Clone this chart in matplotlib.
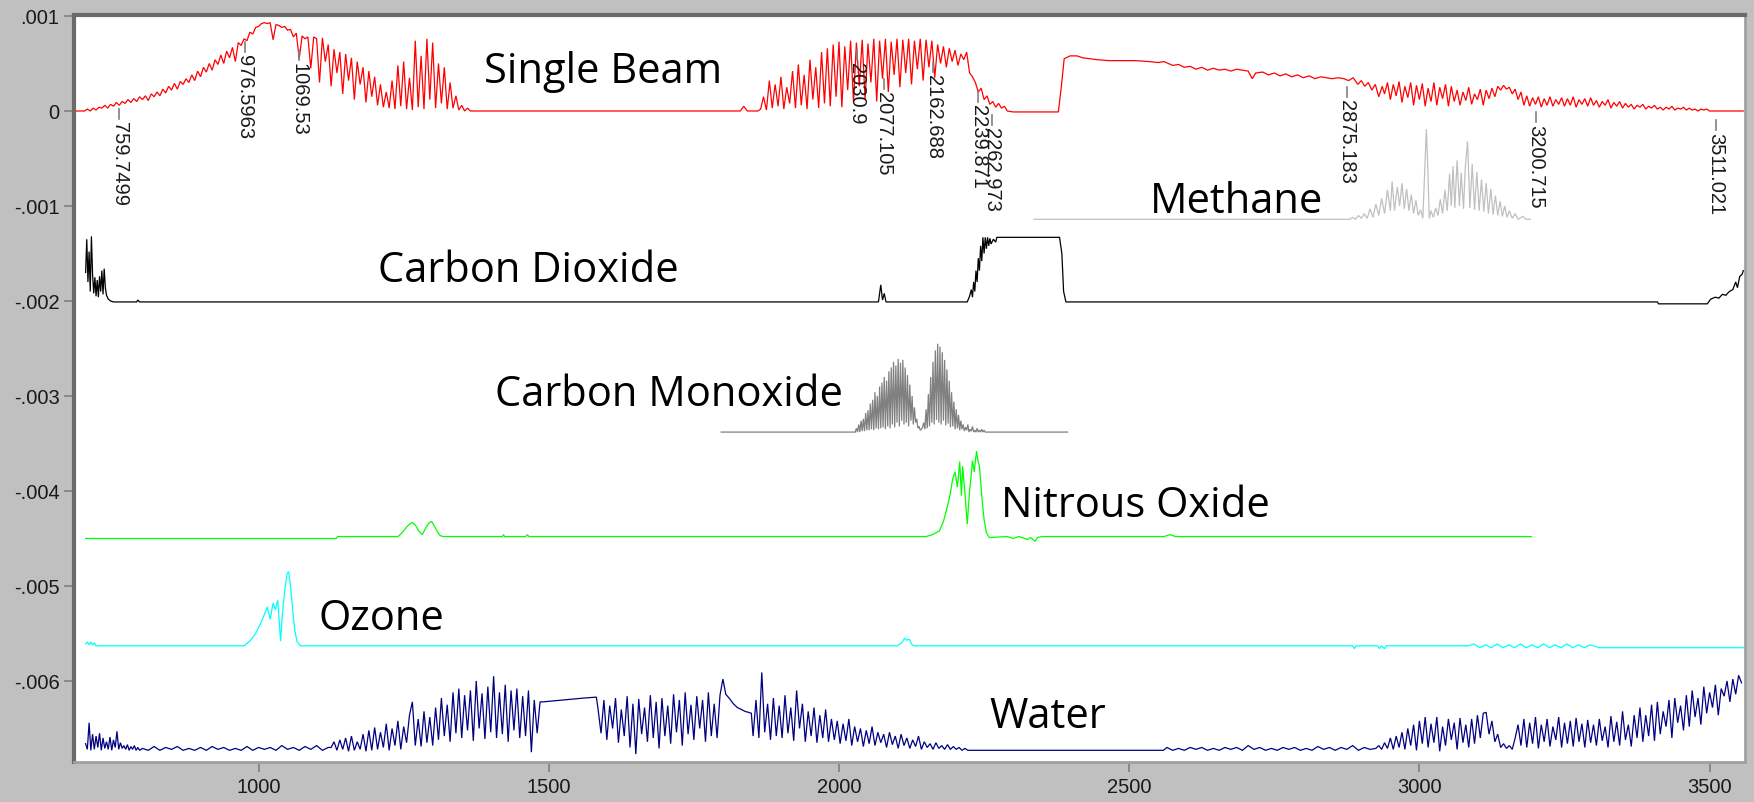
import matplotlib
matplotlib.use("Agg")
import matplotlib.pyplot as plt

# all y values below are in units of 1e-4 (absorbance offset traces)
SCALE = 1e-4


def seg(x0, step, vals):
    # a run of readings taken every `step` wavenumbers
    return [(x0 + i * step, v) for i, v in enumerate(vals)]


# ---------- data ----------

single_beam = (
    [(681, 0.0)]
    + seg(700, 5, [0.0, 0.2, 0.0, 0.3, 0.1, 0.4, 0.3, 0.6, 0.3, 0.7, 0.5, 0.9, 0.6, 1.0, 0.8, 1.2,
                   0.9, 1.3, 1.0, 1.5, 1.2, 1.6, 1.1, 1.8, 1.5, 2.0, 1.6, 2.3, 1.9, 2.6, 2.2, 2.9,
                   2.3, 3.1, 2.8, 3.4, 3.0, 3.8, 3.2, 4.2, 3.6, 4.6, 4.1, 5.0, 4.3, 5.4, 4.9, 5.9,
                   5.0, 6.3, 5.6, 6.7, 5.2, 7.2, 6.9, 7.6, 7.4, 8.3, 8.1, 8.8, 8.9, 9.2, 9.3, 9.2,
                   9.3, 7.5, 9.1, 9.0, 8.8, 8.9, 8.5, 8.6, 7.8, 8.2, 5.5, 7.9, 7.6, 7.8, 4.5, 7.8,
                   7.6, 3.0, 7.7, 5.2, 7.0, 2.6, 6.5, 4.0, 6.2, 1.8, 6.0, 3.2, 5.6, 1.2, 5.2, 2.8,
                   4.6, 0.9, 4.2, 1.5, 3.6, 0.6, 2.8, 0.4, 2.0, 0.3, 3.2, 0.2, 4.8, 0.5, 5.2, 0.2,
                   3.5, 0.1, 7.4, 0.4, 5.8, 0.2, 7.6, 1.2, 7.2, 0.3, 5.0, 0.8, 4.6, 0.2, 3.0, 0.3,
                   1.6, 0.1, 0.6, 0.0, 0.3, 0.0])
    + [(1375, 0.0), (1830, 0.0), (1836, 0.5), (1842, 0.0), (1860, 0.0)]
    + seg(1865, 5, [0.2, 1.5, 0.1, 3.2, 0.3, 2.8, 0.5, 3.6, 0.2, 2.5, 0.8, 4.2, 0.3, 4.9, 0.6, 3.8,
                    0.2, 5.4, 1.2, 4.6, 0.3, 6.2, 0.8, 6.6, 0.5, 7.0, 1.5, 7.3, 0.4, 6.8, 2.2, 7.4,
                    0.9, 7.2, 2.6, 7.5, 1.2, 7.1, 3.0, 7.6, 1.0, 7.4, 3.4, 7.6, 2.0, 7.3, 3.8, 7.6,
                    2.5, 7.5, 4.0, 7.6, 2.8, 7.4, 4.4, 7.6, 3.2, 7.5, 4.6, 7.4, 3.5, 7.0, 5.0, 6.8,
                    4.6, 6.6, 5.2, 6.4, 4.8, 6.0, 5.4, 6.2, 4.0, 3.6, 3.0, 2.0, 2.4, 1.2, 1.6, 0.7,
                    1.0, 0.4, 0.8, 0.3, 0.5, 0.0])
    + [(2300, -0.1), (2378, -0.1), (2383, 2.5), (2388, 5.5), (2398, 5.8), (2410, 5.8),
       (2420, 5.6), (2445, 5.4), (2465, 5.3), (2511, 5.3), (2535, 5.2), (2550, 5.1),
       (2560, 5.2), (2575, 4.8), (2585, 4.9), (2595, 4.6), (2605, 4.7), (2615, 4.4),
       (2625, 4.6), (2635, 4.3), (2645, 4.5), (2655, 4.3), (2665, 4.4), (2675, 4.2),
       (2685, 4.4), (2695, 4.3), (2705, 4.2), (2712, 3.4), (2718, 4.0), (2730, 4.1),
       (2740, 3.8), (2750, 4.0), (2760, 3.7), (2770, 3.9), (2780, 3.6), (2790, 3.8),
       (2800, 3.5), (2810, 3.7), (2820, 3.4), (2830, 3.6), (2840, 3.5), (2850, 3.4),
       (2860, 3.5), (2870, 3.4), (2878, 3.2), (2886, 3.5), (2894, 2.8), (2900, 3.2),
       (2906, 2.6), (2912, 3.0), (2918, 2.2), (2924, 2.8), (2930, 1.5), (2936, 2.6)]
    + seg(2940, 5, [1.8, 3.0, 1.2, 2.8, 1.6, 3.1, 0.9, 2.6, 1.4, 3.0, 0.6, 2.7, 1.2, 2.9, 0.5, 2.4,
                    1.0, 3.0, 0.6, 2.5, 1.3, 2.8, 0.5, 2.6, 1.0, 2.2, 0.6, 2.0, 1.1, 2.5, 0.7, 1.8,
                    1.2, 2.3, 0.6, 2.2, 1.3, 2.4, 1.5, 2.6, 2.2, 2.7, 2.3, 2.5, 1.8, 2.3, 1.2, 2.0,
                    0.6, 1.6, 0.5, 1.4, 0.7, 1.5, 0.4, 1.3, 0.6, 1.5, 0.5, 1.2, 0.7, 1.4, 0.5, 1.3,
                    0.6, 1.5, 0.4, 1.2, 0.7, 1.3, 0.5, 1.4, 0.6, 1.1, 0.4, 1.0, 0.6, 1.2, 0.3, 0.9,
                    0.5, 1.0, 0.3, 0.8, 0.4, 0.7, 0.2, 0.6, 0.4, 0.7, 0.2, 0.5, 0.3, 0.6, 0.2, 0.4,
                    0.1, 0.4, 0.2, 0.5, 0.1, 0.3, 0.2, 0.4, 0.1, 0.3, 0.1, 0.2, 0.0, 0.2, 0.1, 0.2,
                    0.0])
    + [(3510, 0.0), (3558, 0.0)]
)

methane = [
    (2336, -11.4), (2880, -11.4), (2885, -11.2), (2890, -11.4), (2895, -11.0), (2900, -11.3),
    (2905, -10.8), (2910, -11.3), (2915, -10.3), (2920, -11.2), (2925, -9.8), (2930, -11.0),
    (2935, -9.2), (2940, -10.8), (2945, -8.3), (2950, -10.5), (2953, -7.4), (2957, -10.5),
    (2962, -8.0), (2966, -10.0), (2970, -7.6), (2974, -10.3), (2978, -8.2), (2982, -10.5),
    (2986, -8.8), (2990, -10.8), (2994, -9.4), (2998, -11.0), (3002, -10.4), (3006, -11.3),
    (3010, -5.0), (3012, -1.9), (3014, -5.0), (3017, -11.3), (3020, -10.5), (3024, -11.2),
    (3028, -10.2), (3032, -11.0), (3036, -9.3), (3040, -10.8), (3044, -8.3), (3048, -10.5),
    (3052, -6.6), (3055, -10.0), (3058, -5.8), (3061, -10.2), (3065, -5.2), (3069, -10.0),
    (3072, -6.5), (3076, -10.3), (3079, -6.0), (3083, -3.2), (3087, -10.2), (3091, -5.6),
    (3095, -10.4), (3099, -6.4), (3103, -10.5), (3107, -7.2), (3111, -10.6), (3115, -7.6),
    (3119, -10.8), (3123, -8.2), (3127, -10.9), (3131, -8.9), (3135, -11.0), (3139, -9.5),
    (3143, -11.1), (3147, -10.0), (3151, -11.2), (3155, -10.5), (3160, -11.3), (3165, -10.8),
    (3170, -11.4), (3178, -11.1), (3184, -11.4), (3191, -11.4),
]

carbon_dioxide = [
    (702, -17.0), (704, -13.5), (706, -18.0), (708, -14.8), (710, -19.0), (712, -13.2),
    (714, -17.2), (716, -19.2), (718, -17.5), (720, -19.5), (722, -17.8), (724, -19.6),
    (726, -17.4), (728, -19.0), (730, -16.8), (732, -19.3), (734, -16.6), (736, -18.6),
    (738, -19.4), (741, -19.8), (745, -20.0), (750, -20.1), (790, -20.1), (792, -19.9),
    (795, -20.1), (2068, -20.1), (2072, -18.3), (2075, -19.9), (2078, -19.2), (2081, -20.1),
    (2221, -20.1), (2225, -19.5), (2228, -18.8), (2230, -19.6), (2232, -18.0), (2234, -19.0),
    (2236, -16.8), (2238, -18.0), (2240, -15.5), (2242, -16.8), (2244, -14.2), (2246, -15.8),
    (2248, -13.3), (2250, -15.0), (2252, -13.3), (2254, -14.5), (2256, -13.3), (2258, -14.2),
    (2260, -13.4), (2262, -14.0), (2266, -13.5), (2270, -13.8), (2272, -13.3), (2380, -13.3),
    (2384, -15.0), (2387, -19.0), (2391, -20.1), (3410, -20.1), (3412, -20.3), (3496, -20.3),
    (3502, -19.8), (3510, -19.6), (3516, -19.7), (3522, -19.3), (3528, -19.4), (3534, -19.0),
    (3540, -18.8), (3545, -18.0), (3548, -18.6), (3552, -17.4), (3556, -17.2), (3558, -16.8),
]

carbon_monoxide = (
    [(1797, -33.8)]
    + seg(2028, 2, [-33.8, -33.4, -33.8, -33.0, -33.8, -32.6, -33.7, -32.4, -33.7, -31.8, -33.6,
                    -31.5, -33.6, -30.8, -33.5, -30.4, -33.6, -29.6, -33.4, -30.0, -33.5, -29.0,
                    -33.4, -28.6, -33.3, -28.0, -33.5, -28.4, -33.2, -27.4, -33.4, -27.0, -33.0,
                    -26.4, -33.3, -26.8, -32.8, -26.1, -33.2, -26.5, -32.6, -26.2, -33.0, -27.0,
                    -32.8, -27.8, -33.2, -28.8, -32.6, -30.0, -33.0, -31.2, -32.8, -32.4, -33.4,
                    -33.2, -33.6, -33.5, -33.3, -32.8, -33.5, -31.4, -33.4, -29.8, -33.2, -28.0,
                    -32.8, -26.4, -33.0, -25.2, -32.5, -24.5, -32.8, -24.8, -33.0, -25.4, -32.6,
                    -26.2, -33.1, -27.2, -32.9, -28.4, -33.3, -29.6, -33.2, -30.6, -33.5, -31.4,
                    -33.4, -32.0, -33.6, -32.6, -33.5, -33.0, -33.7, -33.3, -33.6, -33.0, -33.8,
                    -33.5, -33.7, -33.2, -33.8, -33.6, -33.8, -33.4, -33.8, -33.6, -33.8, -33.5,
                    -33.8, -33.6, -33.8])
    + [(2394, -33.8)]
)

nitrous_oxide = [
    (702, -45.0), (1134, -45.0), (1136, -44.8), (1240, -44.8), (1244, -44.6), (1250, -44.2),
    (1255, -43.8), (1260, -43.5), (1265, -43.3), (1270, -43.6), (1276, -44.2), (1282, -44.6),
    (1288, -43.9), (1293, -43.4), (1298, -43.2), (1303, -43.7), (1308, -44.3), (1313, -44.7),
    (1318, -44.8), (1420, -44.8), (1422, -44.6), (1424, -44.8), (1460, -44.8), (1463, -44.6),
    (1466, -44.8), (2150, -44.8), (2161, -44.6), (2173, -44.2), (2180, -43.2), (2187, -41.6),
    (2192, -40.2), (2196, -38.7), (2200, -38.0), (2204, -39.6), (2208, -36.9), (2211, -40.5),
    (2213, -37.4), (2217, -40.2), (2221, -43.5), (2225, -40.0), (2228, -38.2), (2230, -36.8),
    (2233, -38.0), (2237, -35.8), (2240, -37.0), (2242, -37.4), (2246, -40.5), (2250, -43.0),
    (2254, -44.4), (2259, -44.9), (2290, -44.8), (2300, -45.0), (2310, -44.8), (2325, -45.1),
    (2330, -44.9), (2338, -45.3), (2342, -44.9), (2350, -44.8), (2560, -44.8), (2570, -44.6),
    (2580, -44.8), (3193, -44.8),
]

ozone = [
    (702, -56.1), (705, -55.9), (708, -56.2), (711, -55.9), (714, -56.2), (717, -56.0),
    (720, -56.3), (975, -56.3), (985, -55.8), (995, -55.0), (1003, -54.0), (1010, -53.0),
    (1015, -52.2), (1020, -53.5), (1025, -51.8), (1029, -52.5), (1033, -51.5), (1038, -55.8),
    (1041, -53.0), (1045, -50.5), (1049, -48.7), (1052, -48.5), (1055, -50.0), (1058, -52.0),
    (1062, -54.5), (1066, -55.8), (1072, -56.3), (2100, -56.3), (2108, -56.0), (2113, -55.5),
    (2117, -55.7), (2121, -55.6), (2126, -56.2), (2130, -56.3), (2885, -56.3), (2888, -56.6),
    (2891, -56.3), (2928, -56.3), (2931, -56.6), (2934, -56.3), (2940, -56.6), (2943, -56.3),
    (3084, -56.3), (3094, -56.1), (3104, -56.5), (3114, -56.2), (3124, -56.5), (3134, -56.1),
    (3144, -56.5), (3154, -56.2), (3164, -56.5), (3174, -56.1), (3184, -56.5), (3194, -56.2),
    (3204, -56.5), (3214, -56.1), (3224, -56.5), (3234, -56.2), (3244, -56.5), (3254, -56.1),
    (3264, -56.5), (3274, -56.2), (3284, -56.5), (3294, -56.2), (3310, -56.5), (3558, -56.5),
]

water = (
    seg(702, 3, [-66.6, -67.2, -64.4, -67.3, -65.6, -67.2, -65.8, -67.0, -65.5, -67.3, -66.0,
                 -67.1, -66.4, -67.2, -65.9, -67.3, -66.2, -67.0, -65.3, -67.2, -66.5, -67.1,
                 -66.8, -67.2, -66.7, -67.3, -66.9, -67.2, -66.8, -67.3, -67.0, -67.3])
    + seg(800, 10, [-67.1, -67.3, -66.9, -67.3, -67.0, -67.2, -66.9, -67.3, -67.1, -67.3, -67.0,
                    -67.3, -66.9, -67.2, -67.0, -67.3, -67.1, -67.3, -66.9, -67.3, -67.0, -67.2,
                    -67.0, -67.3, -66.8, -67.2, -67.0, -67.3, -66.9, -67.2, -66.8, -67.3, -67.0])
    + seg(1125, 5, [-67.0, -66.4, -67.3, -66.2, -67.2, -66.0, -67.4, -65.8, -67.3, -66.4, -67.2,
                    -65.6, -67.4, -65.2, -67.3, -64.9, -67.2, -65.4, -67.0, -64.5, -67.3, -65.0,
                    -66.8, -64.2, -67.2, -64.8, -66.5, -63.6, -62.2, -66.8, -64.0, -66.9, -63.2,
                    -66.5, -63.8, -66.8, -62.8, -66.2, -61.8, -65.8, -62.5, -66.4, -61.2, -65.5,
                    -60.8, -66.0, -61.5, -65.2, -61.0, -66.3, -60.0, -65.0, -61.3, -66.1, -60.6,
                    -65.4, -59.5, -66.0, -61.2, -65.6, -60.4, -66.4, -61.0, -65.2, -60.8, -66.0,
                    -61.6, -65.8, -61.0, -67.5, -62.0, -65.5, -62.2])
    + [(1490, -62.2), (1560, -61.8), (1582, -61.7)]
    + seg(1585, 5, [-63.0, -65.5, -62.0, -66.2, -62.6, -65.0, -61.8, -66.5, -63.0, -65.8, -61.6,
                    -67.0, -62.4, -67.7, -61.9, -65.6, -62.8, -66.4, -61.5, -66.0, -62.2, -67.1,
                    -61.8, -65.8, -62.6, -66.6, -61.4, -65.4, -62.0, -66.8, -61.2, -65.6, -62.5,
                    -66.2, -61.6, -65.0, -62.0, -66.4, -61.2, -65.8, -62.4, -66.0, -61.5, -59.8])
    + [(1805, -61.4), (1812, -61.9), (1818, -62.4), (1825, -62.8), (1832, -63.0),
       (1838, -63.2), (1844, -63.3), (1849, -63.4)]
    + seg(1852, 5, [-65.8, -62.0, -66.0, -59.1, -65.4, -62.4, -66.2, -61.8, -65.8, -62.6, -66.0,
                    -61.5, -65.5, -62.8, -66.3, -61.0, -65.0, -62.4, -66.4, -63.2, -65.8, -62.8,
                    -66.5, -63.6, -66.0, -63.0, -66.4, -64.0, -66.2, -64.2, -66.6, -64.5, -66.3,
                    -64.0, -66.8, -64.8, -66.4, -65.0, -66.9, -65.2, -66.6, -64.8, -66.8, -65.4,
                    -66.5, -65.6, -67.0, -65.4, -66.7, -65.8, -67.1, -65.6, -66.8, -66.0, -67.1,
                    -66.2, -66.9, -65.8, -67.2, -66.4, -67.0, -66.6, -67.2, -66.5, -67.1, -66.8,
                    -67.2, -66.7, -67.2, -66.9, -67.2, -67.0, -67.3, -67.1, -67.3])
    + [(2559, -67.3)]
    + seg(2565, 10, [-67.0, -67.3, -67.1, -67.3, -67.0, -67.2, -67.0, -67.3, -67.1, -67.3, -67.0,
                     -67.2, -67.0, -67.3, -66.8, -67.2, -67.0, -67.3, -67.1, -67.3, -67.0, -67.2,
                     -67.0, -67.3, -67.1, -67.3, -66.9, -67.2, -67.0, -67.3, -67.0, -67.2, -66.8,
                     -67.3, -67.0, -67.2, -67.1])
    + seg(2930, 5, [-66.8, -67.2, -66.5, -67.1, -66.0, -67.2, -65.8, -67.0, -65.4, -67.2, -65.0,
                    -66.8, -64.6, -67.3, -64.2, -66.6, -63.8, -67.0, -64.5, -66.5, -63.8, -67.4,
                    -64.8, -66.8, -64.0, -66.2, -64.4, -67.2, -63.9, -66.5, -64.6, -67.0, -64.0,
                    -66.6, -63.6, -66.0, -63.4, -63.3, -65.6, -64.2, -66.4, -65.6, -67.0, -66.6,
                    -67.1, -66.8, -67.2, -66.0, -64.6, -66.8, -64.0, -67.0, -64.4, -66.6, -63.8,
                    -67.1, -64.6, -66.4, -64.0, -66.9, -64.8, -66.2, -63.8, -67.0, -64.4, -66.6,
                    -64.2, -66.9, -63.9, -66.4, -64.5, -67.0, -64.1, -66.5, -64.6, -66.8, -64.0,
                    -66.3, -64.8, -67.0, -63.7, -66.4, -64.3, -66.8, -63.2, -66.2, -64.6, -66.9,
                    -63.6, -66.0, -62.8, -66.4, -63.6, -65.8, -62.5, -66.3, -62.2, -65.6, -63.2,
                    -64.8, -62.0, -66.0, -61.8, -64.4, -62.6, -65.2, -61.5, -64.8, -61.0, -63.8,
                    -61.8, -64.6, -60.6, -63.4, -61.2, -62.8, -60.4, -63.6, -60.8, -61.6, -60.0,
                    -62.2, -59.8, -61.4, -59.4, -60.2])
)

series = [
    (single_beam, "#ff0000"),
    (methane, "#c0c0c0"),
    (carbon_dioxide, "#000000"),
    (carbon_monoxide, "#808080"),
    (nitrous_oxide, "#00ff00"),
    (ozone, "#00ffff"),
    (water, "#000080"),
]

# trace names: (text, left x, baseline y)
names = ["Single Beam", "Methane", "Carbon Dioxide", "Carbon Monoxide",
         "Nitrous Oxide", "Ozone", "Water"]
name_x = [1389, 2535, 1205, 1408, 2280, 1103, 2259]
name_y = [3.05, -10.6, -17.9, -30.9, -42.6, -54.5, -64.8]

# peak markers on the single beam trace: position and top of the label
peak_labels = ["759.7499", "976.5963", "1069.53", "2030.9", "2077.105", "2162.688",
               "2239.871", "2262.973", "2875.183", "3200.715", "3511.021"]
peak_x = [759.7499, 976.5963, 1069.53, 2030.9, 2077.105, 2162.688,
          2239.871, 2262.973, 2875.183, 3200.715, 3511.021]
peak_label_top = [-1.05, 6.0, 5.16, 5.16, 2.1, 3.9, 0.74, -1.7, 1.26, -1.37, -2.2]

y_ticks = [10, 0, -10, -20, -30, -40, -50, -60]
y_tick_labels = [".001", "0", "-.001", "-.002", "-.003", "-.004", "-.005", "-.006"]
x_ticks = [1000, 1500, 2000, 2500, 3000, 3500]

# ---------- drawing ----------
W, H = 1754, 803
fig = plt.figure(figsize=(W / 100, H / 100), dpi=100, facecolor="#c0c0c0")
ax = fig.add_axes([74 / W, (H - 763) / H, (1745 - 74) / W, (763 - 16) / H])
ax.set_facecolor("white")

for pts, col in series:
    xs = [p[0] for p in pts]
    ys = [p[1] * SCALE for p in pts]
    ax.plot(xs, ys, color=col, lw=0.9, solid_joinstyle="miter")

for txt, x, y in zip(names, name_x, name_y):
    ax.text(x, y * SCALE, txt, fontsize=30, family="Open Sans", color="black",
            ha="left", va="baseline")

for txt, x, y in zip(peak_labels, peak_x, peak_label_top):
    ax.plot([x, x], [(y + 1.3) * SCALE, (y + 0.2) * SCALE], color="#808080", lw=1.2)
    ax.text(x, y * SCALE, txt, rotation=270, ha="center", va="top",
            fontsize=14.5, family="Liberation Sans", color="#1a1a1a")

ax.set_xlim(682, 3561)
ax.set_ylim(-0.006853, 0.0010105)
ax.set_yticks([v * SCALE for v in y_ticks])
ax.set_yticklabels(y_tick_labels)
ax.set_xticks(x_ticks)
ax.tick_params(axis="both", colors="#808080", length=7, width=1.2, labelsize=14.5,
               labelcolor="#1a1a1a")
for lab in ax.get_xticklabels() + ax.get_yticklabels():
    lab.set_family("Liberation Sans")

ax.spines["top"].set_color("#6a6a6a")
ax.spines["left"].set_color("#6a6a6a")
ax.spines["top"].set_linewidth(3)
ax.spines["left"].set_linewidth(3)
ax.spines["bottom"].set_color("#a0a0a0")
ax.spines["right"].set_color("#a0a0a0")
ax.spines["bottom"].set_linewidth(2)
ax.spines["right"].set_linewidth(2)

fig.savefig("out.png", dpi=100, facecolor=fig.get_facecolor())
